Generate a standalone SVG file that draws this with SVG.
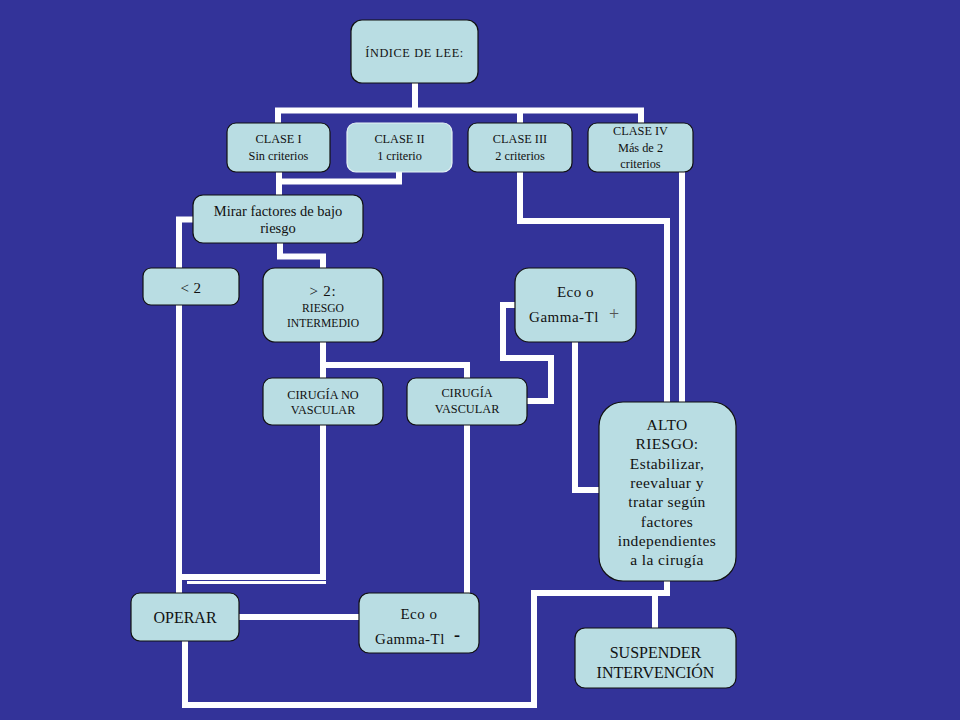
<svg xmlns="http://www.w3.org/2000/svg" width="960" height="720" viewBox="0 0 960 720">
<style>
.n{fill:#b9dde3;stroke:#111;stroke-width:1.2}
.w{fill:none;stroke:#fff;stroke-width:6;stroke-linejoin:miter;stroke-linecap:square}
text{font-family:'Liberation Serif','DejaVu Serif','Times New Roman',serif;fill:#111;text-anchor:middle}
.s12{font-size:12.3px}
.s11{font-size:11.6px}
.s15{font-size:15px;letter-spacing:0.5px}
.s16{font-size:16px}
</style>
<rect width="960" height="720" fill="#333399"/>
<g id="connectors">
<path class="w" d="M415,83 V110.5 M278,110.5 H641 M278,110.5 V123 M520,110.5 V123 M641,110.5 V123"/>
<path class="w" d="M399,172 V181.5 H279 M279,172 V195"/>
<path class="w" d="M280,243 V256.5 H323 V268"/>
<path class="w" d="M193,219.5 H179 V593"/>
<path class="w" d="M323,342 V378 M323,365 H467 V378"/>
<path class="w" d="M323,425 V577 H182"/>
<path d="M187,582.5 H326" fill="none" stroke="#fff" stroke-width="3"/>
<path class="w" d="M515,305 H503 V358 H551 V401 H527"/>
<path class="w" d="M520,172 V221 H667 V402"/>
<path class="w" d="M682,172 V402"/>
<path class="w" d="M575,342 V490 H600"/>
<path class="w" d="M667,581 V593 H534 V705 H185 V641"/>
<path class="w" d="M655,593 V628"/>
<path class="w" d="M239,617 H359"/>
<path class="w" d="M467,425 V593"/>
</g>
<g id="nodes" font-family="Liberation Serif, DejaVu Serif, serif">
<g id="indice">
<rect class="n" x="351" y="20" width="127" height="63" rx="11"/>
<text class="s12" x="414.5" y="57" style="letter-spacing:0.6px">ÍNDICE DE LEE:</text>
</g>
<g id="clase1">
<rect class="n" x="227" y="123" width="103" height="49" rx="9"/>
<text class="s12" x="278.5" y="143">CLASE I</text>
<text class="s12" x="278.5" y="160">Sin criterios</text>
</g>
<g id="clase2">
<rect class="n" x="347" y="123" width="105" height="49" rx="9" style="stroke:#e6f3f5"/>
<text class="s12" x="399.5" y="143">CLASE II</text>
<text class="s12" x="399.5" y="160">1 criterio</text>
</g>
<g id="clase3">
<rect class="n" x="468" y="123" width="104" height="49" rx="9"/>
<text class="s12" x="520" y="143">CLASE III</text>
<text class="s12" x="520" y="160">2 criterios</text>
</g>
<g id="clase4">
<rect class="n" x="588" y="123" width="105" height="49" rx="9"/>
<text class="s12" x="640.5" y="135">CLASE IV</text>
<text class="s12" x="640.5" y="151.5">Más de 2</text>
<text class="s12" x="640.5" y="168">criterios</text>
</g>
<g id="mirar">
<rect class="n" x="193" y="195" width="170" height="48" rx="10"/>
<text x="278" y="216" style="font-size:14.5px">Mirar factores de bajo</text>
<text x="278" y="233" style="font-size:14.5px">riesgo</text>
</g>
<g id="menos2">
<rect class="n" x="143" y="268" width="96" height="37" rx="8"/>
<text x="191" y="293" style="font-size:15px;letter-spacing:0.5px">&lt; 2</text>
</g>
<g id="mas2">
<rect class="n" x="263" y="268" width="120" height="74" rx="12"/>
<text x="323" y="296" style="font-size:15px;letter-spacing:0.8px">&gt; 2:</text>
<text class="s11" x="323" y="312">RIESGO</text>
<text class="s11" x="323" y="327">INTERMEDIO</text>
</g>
<g id="cirnovasc">
<rect class="n" x="263" y="378" width="120" height="47" rx="9"/>
<text class="s12" x="323" y="399">CIRUGÍA NO</text>
<text class="s12" x="323" y="414">VASCULAR</text>
</g>
<g id="cirvasc">
<rect class="n" x="407" y="378" width="120" height="47" rx="9"/>
<text class="s12" x="467" y="397">CIRUGÍA</text>
<text class="s12" x="467" y="413">VASCULAR</text>
</g>
<g id="ecomas">
<rect class="n" x="515" y="268" width="121" height="74" rx="14"/>
<text class="s15" x="575.5" y="297">Eco o</text>
<text class="s15" x="564" y="322">Gamma-Tl</text>
<text x="614" y="320" style="font-size:18px;fill:#555">+</text>
</g>
<g id="alto">
<rect class="n" x="599" y="402" width="137" height="179" rx="24"/>
<text x="667" y="430" style="font-size:15.5px;letter-spacing:0.4px">ALTO</text>
<text x="667" y="449" style="font-size:15.5px;letter-spacing:0.4px">RIESGO:</text>
<text x="667" y="468.5" style="font-size:15.5px;letter-spacing:0.4px">Estabilizar,</text>
<text x="667" y="488" style="font-size:15.5px;letter-spacing:0.4px">reevaluar y</text>
<text x="667" y="507" style="font-size:15.5px;letter-spacing:0.4px">tratar según</text>
<text x="667" y="526.5" style="font-size:15.5px;letter-spacing:0.4px">factores</text>
<text x="667" y="546" style="font-size:15.5px;letter-spacing:0.4px">independientes</text>
<text x="667" y="565" style="font-size:15.5px;letter-spacing:0.4px">a la cirugía</text>
</g>
<g id="suspender">
<rect class="n" x="575" y="628" width="161" height="60" rx="10"/>
<text class="s16" x="655.5" y="658">SUSPENDER</text>
<text class="s16" x="655.5" y="678">INTERVENCIÓN</text>
</g>
<g id="operar">
<rect class="n" x="131" y="593" width="108" height="48" rx="9"/>
<text class="s16" x="185" y="623">OPERAR</text>
</g>
<g id="ecomenos">
<rect class="n" x="359" y="593" width="120" height="60" rx="10"/>
<text class="s15" x="419" y="619">Eco o</text>
<text class="s15" x="410" y="644">Gamma-Tl</text>
<text x="457" y="641" style="font-size:18px;font-weight:bold">-</text>
</g>
</g>
</svg>
